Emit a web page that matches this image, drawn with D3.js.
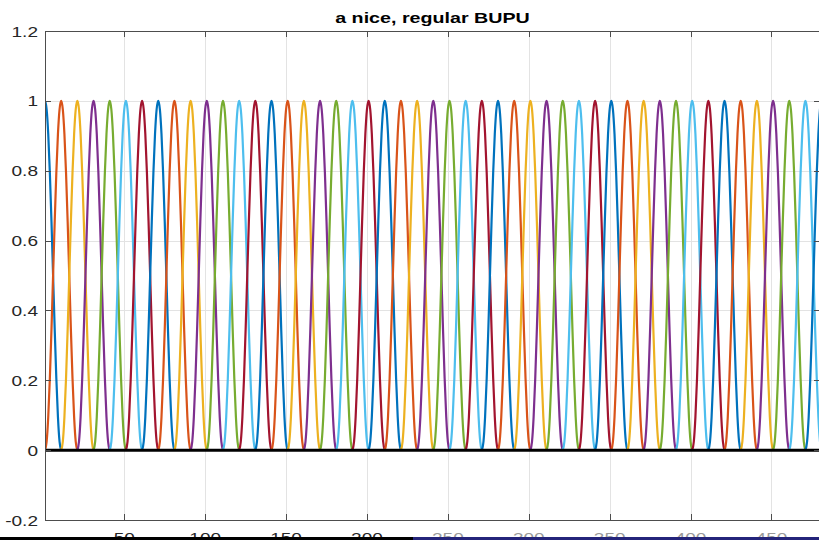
<!DOCTYPE html>
<html>
<head>
<meta charset="utf-8">
<script src="https://cdn.jsdelivr.net/npm/d3@7"></script>
<style>
	html, body { margin: 0; padding: 0; background: #fff; }
	svg { display: block; font-family: "Liberation Sans", Arial, sans-serif; }
</style>
</head>
<body>
<svg id="chart" width="819" height="540"></svg>
<script>
// Values
const titleText = "a nice, regular BUPU";
const xTicks = [50, 100, 150, 200, 250, 300, 350, 400, 450];
const yTicks = [-0.2, 0, 0.2, 0.4, 0.6, 0.8, 1, 1.2];
const yTickLabels = ["-0.2", "0", "0.2", "0.4", "0.6", "0.8", "1", "1.2"];
// peak position of every bump; the last one is the first line again (it wraps round)
const bumpCenters = [
	1, 11, 21, 31, 41, 51, 61, 71, 81, 91,
	101, 111, 121, 131, 141, 151, 161, 171, 181, 191,
	201, 211, 221, 231, 241, 251, 261, 271, 281, 291,
	301, 311, 321, 331, 341, 351, 361, 371, 381, 391,
	401, 411, 421, 431, 441, 451, 461, 471, 481,
];
const lineCount = 48;
// height of a bump at 0..10 units away from its peak
const bumpProfile = [1, 0.976, 0.905, 0.794, 0.655, 0.5, 0.345, 0.206, 0.095, 0.024, 0];
const seriesColors = ["#0072BD", "#D95319", "#EDB120", "#7E2F8E", "#77AC30", "#4DBEEE", "#A2142F"];
const xDomain = [1, 480];
const yDomain = [-0.2, 1.2];

const margin = { left: 45, top: 31, right: -1, bottom: 20 };
const width = 819,
	height = 540;
// the picture's text is wider than the font's natural width
const textStretch = 1.27;

const svg = d3.select("#chart");

const x = d3.scaleLinear().domain(xDomain).range([margin.left, width - margin.right]);
const y = d3.scaleLinear().domain(yDomain).range([height - margin.bottom, margin.top]);

const [x0, x1] = x.range();
const [y0, y1] = y.range();

svg.append("defs")
	.append("clipPath")
	.attr("id", "plot-clip")
	.append("rect")
	.attr("x", x0)
	.attr("y", y1)
	.attr("width", x1 - x0)
	.attr("height", y0 - y1);

// grid
const grid = svg.append("g").attr("stroke", "#e3e3e3").attr("stroke-width", 1);
grid.selectAll(".gx")
	.data(xTicks)
	.join("line")
	.attr("x1", (d) => Math.round(x(d)) + 0.5)
	.attr("x2", (d) => Math.round(x(d)) + 0.5)
	.attr("y1", y1)
	.attr("y2", y0);
grid.selectAll(".gy")
	.data(yTicks)
	.join("line")
	.attr("y1", (d) => Math.round(y(d)) + 0.5)
	.attr("y2", (d) => Math.round(y(d)) + 0.5)
	.attr("x1", x0)
	.attr("x2", x1);

// series
const series = bumpCenters.map((c, i) => {
	const pts = [];
	for (let k = -(bumpProfile.length - 1); k < bumpProfile.length; k++) {
		pts.push([c + k, bumpProfile[Math.abs(k)]]);
	}
	const lineIndex = i % lineCount;
	return { color: seriesColors[lineIndex % seriesColors.length], points: pts };
});

const line = d3
	.line()
	.x((d) => x(d[0]))
	.y((d) => y(d[1]))
	.curve(d3.curveMonotoneX);

svg.append("g")
	.attr("clip-path", "url(#plot-clip)")
	.selectAll("path")
	.data(series)
	.join("path")
	.attr("fill", "none")
	.attr("stroke", (d) => d.color)
	.attr("stroke-width", 2.2)
	.attr("d", (d) => line(d.points));

// zero line
svg.append("line")
	.attr("x1", x0)
	.attr("x2", x1)
	.attr("y1", y(0))
	.attr("y2", y(0))
	.attr("stroke", "#000")
	.attr("stroke-width", 3);

// axes (box with inward ticks)
const axisColor = "#4d4d4d";
const tickLen = 6;
const axes = svg.append("g").attr("stroke", axisColor).attr("stroke-width", 1).attr("fill", "none");
axes.append("rect")
	.attr("x", x0 + 0.5)
	.attr("y", y1 + 0.5)
	.attr("width", x1 - x0)
	.attr("height", y0 - y1);
xTicks.forEach((t) => {
	const px = Math.round(x(t)) + 0.5;
	axes.append("line").attr("x1", px).attr("x2", px).attr("y1", y0).attr("y2", y0 - tickLen);
	axes.append("line").attr("x1", px).attr("x2", px).attr("y1", y1).attr("y2", y1 + tickLen);
});
yTicks.forEach((t) => {
	const py = Math.round(y(t)) + 0.5;
	axes.append("line").attr("x1", x0).attr("x2", x0 + tickLen).attr("y1", py).attr("y2", py);
	axes.append("line").attr("x1", x1).attr("x2", x1 - tickLen).attr("y1", py).attr("y2", py);
});

const stretched = (tx, ty) => `translate(${tx},${ty}) scale(${textStretch},1)`;

// tick labels
svg.append("g")
	.selectAll("text")
	.data(yTicks)
	.join("text")
	.attr("transform", (d) => stretched(x0 - 7, y(d) + 5.5))
	.attr("text-anchor", "end")
	.attr("font-size", 15)
	.attr("fill", "#262626")
	.text((d, i) => yTickLabels[i]);

svg.append("g")
	.selectAll("text")
	.data(xTicks)
	.join("text")
	.attr("transform", (d) => stretched(x(d), 542.5))
	.attr("text-anchor", "middle")
	.attr("font-size", 15)
	.attr("fill", (d) => (x(d) > 413 ? "#9a9a9a" : "#262626"))
	.text((d) => d);

// title
svg.append("text")
	.attr("transform", stretched((x0 + x1) / 2, 22.5))
	.attr("text-anchor", "middle")
	.attr("font-size", 15.5)
	.attr("font-weight", "bold")
	.attr("fill", "#000")
	.text(titleText);

// strip along the bottom edge
svg.append("rect").attr("x", 0).attr("y", 537).attr("width", 413).attr("height", 3).attr("fill", "#000");
svg.append("rect").attr("x", 413).attr("y", 537).attr("width", 406).attr("height", 3).attr("fill", "#24247a");
</script>
</body>
</html>
